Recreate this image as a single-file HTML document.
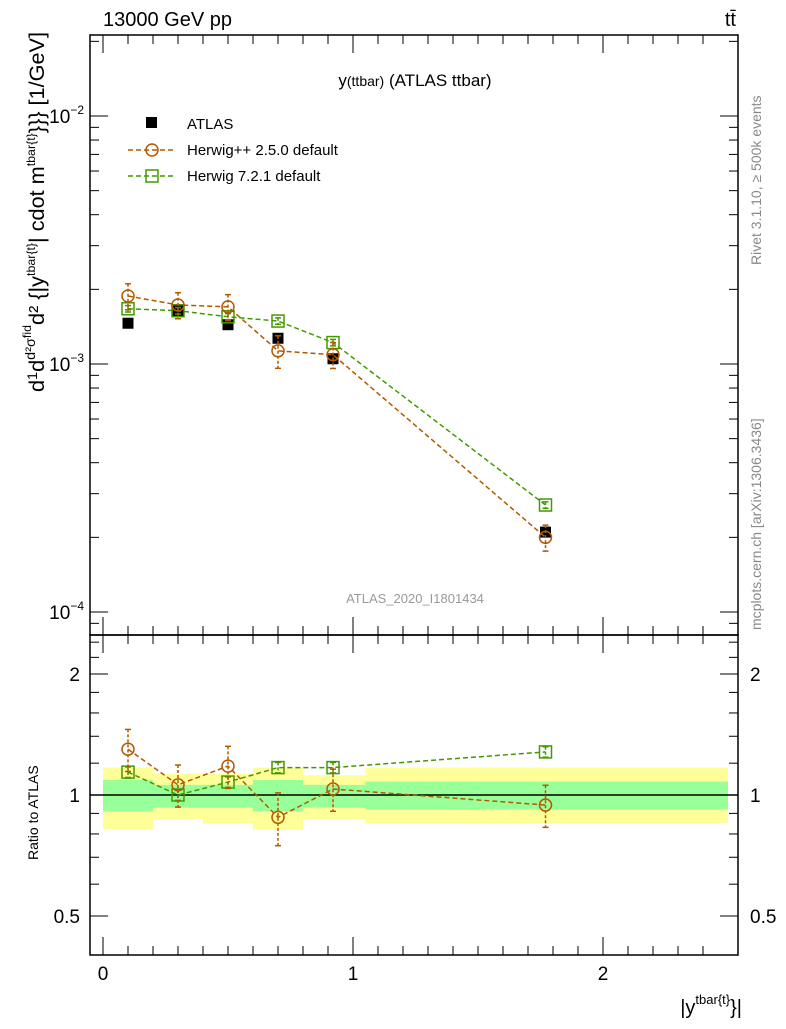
<!DOCTYPE html>
<html><head><meta charset="utf-8"><style>
body{margin:0;background:#fff;}
svg{font-family:"Liberation Sans",sans-serif;}
</style></head><body>
<svg id="c" width="786" height="1024" xmlns="http://www.w3.org/2000/svg">
<text x="103" y="26" font-size="20">13000 GeV pp</text>
<text x="736" y="26" font-size="20" text-anchor="end">tt̄</text>
<text x="415" y="86" font-size="17" text-anchor="middle">y<tspan font-size="14">(ttbar)</tspan> (ATLAS ttbar)</text>
<text x="415" y="603" font-size="13" fill="#999" text-anchor="middle">ATLAS_2020_I1801434</text>
<text transform="translate(761,265) rotate(-90)" font-size="14" fill="#888">Rivet 3.1.10, ≥ 500k events</text>
<text transform="translate(761,630) rotate(-90)" font-size="14" fill="#888">mcplots.cern.ch [arXiv:1306.3436]</text>
<text transform="translate(44,392) rotate(-90)" font-size="21" textLength="360" lengthAdjust="spacingAndGlyphs">d<tspan font-size="14" dy="-7">1</tspan><tspan dy="7">d</tspan><tspan font-size="14" dy="-9">d²σ</tspan><tspan font-size="12" dy="-4">fid</tspan><tspan dy="13">d² {|y</tspan><tspan font-size="12" dy="-9">tbar{t}</tspan><tspan dy="9">| cdot m</tspan><tspan font-size="12" dy="-9">tbar{t}</tspan><tspan dy="9">}}} [1/GeV]</tspan></text>
<text transform="translate(38,860) rotate(-90)" font-size="14">Ratio to ATLAS</text>
<text x="742" y="1014" font-size="20" text-anchor="end">|y<tspan font-size="13" dy="-10">tbar{t}</tspan><tspan dy="10">}|</tspan></text>
<g id="main"></g>
<g id="ratio"></g>
<rect x="90" y="35" width="648" height="600" fill="none" stroke="#000" stroke-width="1.5"/>
<rect x="90" y="635" width="648" height="320" fill="none" stroke="#000" stroke-width="1.5"/>
<g>
<rect x="146" y="117" width="11" height="11" fill="#000"/>
<text x="187" y="129" font-size="15">ATLAS</text>
<line x1="128" y1="150" x2="176" y2="150" stroke="#b35900" stroke-width="1.5" stroke-dasharray="5,3"/>
<circle cx="152" cy="150" r="6" fill="none" stroke="#b35900" stroke-width="1.5"/>
<text x="187" y="155" font-size="15">Herwig++ 2.5.0 default</text>
<line x1="128" y1="176" x2="176" y2="176" stroke="#449900" stroke-width="1.5" stroke-dasharray="5,3"/>
<rect x="146" y="170" width="12" height="12" fill="none" stroke="#449900" stroke-width="1.5"/>
<text x="187" y="181" font-size="15">Herwig 7.2.1 default</text>
</g>
</svg>
<script>
const xs=[0.1,0.3,0.5,0.7,0.92,1.77];
const atlas=[1.46e-3,1.64e-3,1.44e-3,1.27e-3,1.05e-3,2.1e-4];
const hpp=[1.88e-3,1.73e-3,1.70e-3,1.13e-3,1.09e-3,2.0e-4];
const hppErr=[0.12,0.12,0.12,0.15,0.12,0.12];
const h7=[1.67e-3,1.64e-3,1.55e-3,1.49e-3,1.22e-3,2.7e-4];
const h7Err=[0.03,0.03,0.03,0.03,0.03,0.03];
const rHpp=[1.30,1.06,1.18,0.88,1.035,0.944];
const rH7=[1.14,1.0,1.077,1.17,1.17,1.28];
const binEdges=[0,0.2,0.4,0.6,0.8,1.05,2.5];
const yelLo=[0.82,0.87,0.85,0.82,0.87,0.85];
const yelHi=[1.17,1.13,1.13,1.17,1.12,1.17];
const grnLo=[0.91,0.93,0.93,0.91,0.93,0.92];
const grnHi=[1.09,1.06,1.06,1.09,1.06,1.08];
const mainTicks=["10^-2","10^-3","10^-4"];
const ratioTicks=["2","1","0.5"];
const xTicks=["0","1","2"];
const NS="http://www.w3.org/2000/svg";
const X=v=>103+250*v;
const Y=v=>364-248*(Math.log10(v)+3);
const R=v=>795-121*Math.log2(v);
function mk(p,t,a){const e=document.createElementNS(NS,t);for(const k in a)e.setAttribute(k,a[k]);p.appendChild(e);return e;}
const M=document.getElementById('main'),RG=document.getElementById('ratio');
binEdges.slice(0,-1).forEach((b,i)=>{
 const e=binEdges[i+1];
 let r=mk(RG,'rect',{x:X(b),y:R(yelHi[i]),width:X(e)-X(b),height:R(yelLo[i])-R(yelHi[i]),fill:'#ffff99'});
 
 
 r=mk(RG,'rect',{x:X(b),y:R(grnHi[i]),width:X(e)-X(b),height:R(grnLo[i])-R(grnHi[i]),fill:'#99ff99'});
 
 
});
mk(RG,'line',{x1:90,x2:738,y1:R(1),y2:R(1),stroke:'#000','stroke-width':1.5});
for(let d=-5;d<=-1;d++)for(let m=1;m<=9;m++){const v=m*Math.pow(10,d);const y=Y(v);if(y<36||y>634)continue;const L=m==1?18:9;
 mk(M,'line',{x1:90,x2:90+L,y1:y,y2:y,stroke:'#000'});mk(M,'line',{x1:738,x2:738-L,y1:y,y2:y,stroke:'#000'});}
mainTicks.forEach((t,i)=>{const e=-2-i;const y=Y(Math.pow(10,e));
 const tx=mk(M,'text',{x:84,y:y+7,'font-size':19,'text-anchor':'end'});
 
 
 tx.innerHTML='10<tspan font-size="12" dy="-9">'+t.split('^')[1].replace('-','−')+'</tspan>';});
[0.4,0.5,0.6,0.7,0.8,0.9,1,1.2,1.4,1.6,1.8,2,2.2,2.4].forEach(v=>{const y=R(v);if(y<636||y>954)return;const L=(v==0.5||v==1||v==2)?18:9;
 mk(RG,'line',{x1:90,x2:90+L,y1:y,y2:y,stroke:'#000'});mk(RG,'line',{x1:738,x2:738-L,y1:y,y2:y,stroke:'#000'});});
ratioTicks.forEach(t=>{const y=R(parseFloat(t));
 let tx=mk(RG,'text',{x:80,y:y+7,'font-size':19,'text-anchor':'end'});tx.textContent=t;
 
 
 tx=mk(RG,'text',{x:750,y:y+7,'font-size':19});tx.textContent=t;
 
 });
for(let v=0;v<=2.5;v+=0.1){const x=X(v);const maj=Math.abs(v-Math.round(v))<1e-6;const L=maj?18:9;
 mk(M,'line',{x1:x,x2:x,y1:635,y2:635-L,stroke:'#000'});mk(M,'line',{x1:x,x2:x,y1:35,y2:35+L,stroke:'#000'});
 mk(RG,'line',{x1:x,x2:x,y1:955,y2:955-L,stroke:'#000'});mk(RG,'line',{x1:x,x2:x,y1:635,y2:635+L,stroke:'#000'});}
xTicks.forEach(t=>{const tx=mk(RG,'text',{x:X(+t),y:980,'font-size':19,'text-anchor':'middle'});tx.textContent=t;
 
 });
function series(G,vals,yf,errs,col,shape,name){
 mk(G,'polyline',{points:vals.map((v,i)=>X(xs[i])+','+yf(v)).join(' '),fill:'none',stroke:col,'stroke-width':1.5,'stroke-dasharray':'5,3'});
 vals.forEach((v,i)=>{const x=X(xs[i]),y=yf(v);
  if(errs){const y1=yf(v*(1+errs[i])),y2=yf(v*(1-errs[i]));
   mk(G,'line',{x1:x,x2:x,y1:y1,y2:y2,stroke:col,'stroke-width':1.5,'stroke-dasharray':'3,2'});
   mk(G,'line',{x1:x-3,x2:x+3,y1:y1,y2:y1,stroke:col,'stroke-width':1.5});mk(G,'line',{x1:x-3,x2:x+3,y1:y2,y2:y2,stroke:col,'stroke-width':1.5});}
  let m;
  if(shape=='c')m=mk(G,'circle',{cx:x,cy:y,r:6,fill:'none',stroke:col,'stroke-width':1.5});
  else m=mk(G,'rect',{x:x-6,y:y-6,width:12,height:12,fill:'none',stroke:col,'stroke-width':1.5});
  
  
 });
}
atlas.forEach((v,i)=>{const m=mk(M,'rect',{x:X(xs[i])-5.5,y:Y(v)-5.5,width:11,height:11,fill:'#000'});
 
 });
series(M,h7,Y,h7Err,'#449900','s','herwig7-point');
series(M,hpp,Y,hppErr,'#b35900','c','herwigpp-point');
series(RG,rH7,R,h7Err,'#449900','s','herwig7-ratio-point');
series(RG,rHpp,R,hppErr,'#b35900','c','herwigpp-ratio-point');
</script>
</body></html>
